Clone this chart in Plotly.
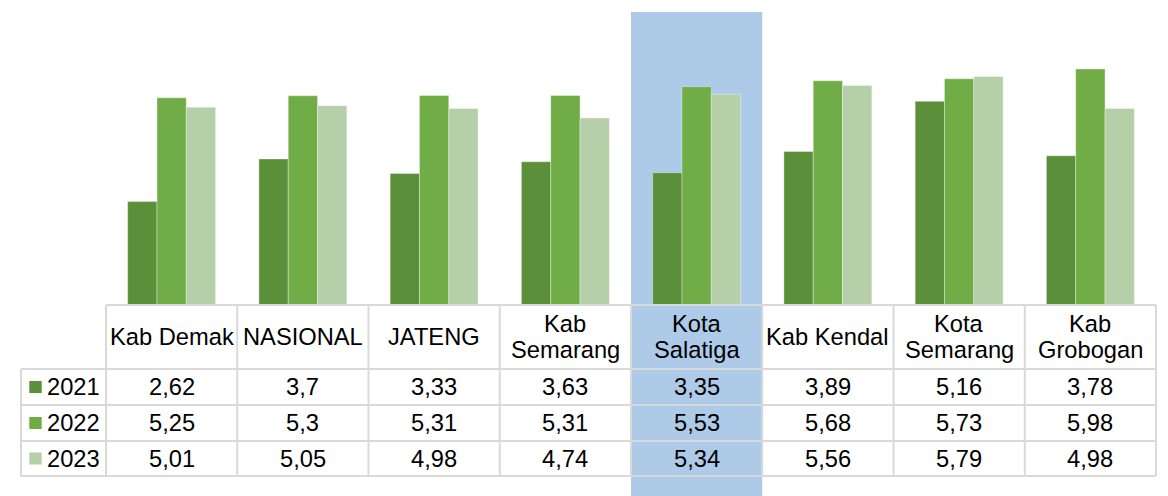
import plotly.graph_objects as go

# ---------------- data ----------------
categories = ["Kab Demak", "NASIONAL", "JATENG", "Kab Semarang", "Kota Salatiga",
              "Kab Kendal", "Kota Semarang", "Kab Grobogan"]
header_lines = [["Kab Demak"], ["NASIONAL"], ["JATENG"], ["Kab", "Semarang"],
                ["Kota", "Salatiga"], ["Kab Kendal"], ["Kota", "Semarang"], ["Kab", "Grobogan"]]
series_names = ["2021", "2022", "2023"]
values_2021 = [2.62, 3.7, 3.33, 3.63, 3.35, 3.89, 5.16, 3.78]
values_2022 = [5.25, 5.3, 5.31, 5.31, 5.53, 5.68, 5.73, 5.98]
values_2023 = [5.01, 5.05, 4.98, 4.74, 5.34, 5.56, 5.79, 4.98]
highlight = "Kota Salatiga"

series_values = [values_2021, values_2022, values_2023]
colors = ["#5B8F3A", "#70AD47", "#B5CFA8"]

# ---------------- layout geometry ----------------
# The page body adds an 8px margin, so the figure is drawn 8px smaller and
# screen positions are converted to figure positions through OFF.
OFF = 8
SCREEN_W, SCREEN_H = 1168, 496
W, H = SCREEN_W - OFF, SCREEN_H - OFF
plot_left, plot_right, plot_top, plot_bottom = 106, 1156, 12, 305  # screen pixels
L = plot_left - OFF
R = SCREEN_W - plot_right
T = plot_top - OFF
B = SCREEN_H - plot_bottom
plot_w = W - L - R
plot_h = H - T - B


def py(y_screen):
    return (plot_bottom - y_screen) / plot_h


def px(x_screen):
    return (x_screen - plot_left) / plot_w


FONT = "Liberation Sans, Arial, sans-serif"
FS = 23.7
GRID = "#D9D9D9"

fig = go.Figure()
for name, vals, col in zip(series_names, series_values, colors):
    fig.add_trace(go.Bar(
        x=categories, y=vals, name=name,
        marker=dict(color=col, line=dict(color="rgba(255,255,255,0.35)", width=1)),
        hoverinfo="x+y+name",
    ))

shapes = []
hi = categories.index(highlight)
shapes.append(dict(type="rect", xref="x", yref="paper", x0=hi - 0.5, x1=hi + 0.5,
                   y0=py(498), y1=py(12), fillcolor="#ADCBE9", line=dict(width=0),
                   layer="below"))

header_top = plot_bottom
row_top = [369, 405, 441]
row_bot = 476
label_left = 21
n = len(categories)

line_style = dict(color=GRID, width=2)
shapes.append(dict(type="line", xref="paper", yref="paper", x0=0, x1=1,
                   y0=py(header_top), y1=py(header_top), line=line_style))
for yv in row_top + [row_bot]:
    shapes.append(dict(type="line", xref="paper", yref="paper", x0=px(label_left), x1=1,
                       y0=py(yv), y1=py(yv), line=line_style))
shapes.append(dict(type="line", xref="paper", yref="paper", x0=px(label_left), x1=px(label_left),
                   y0=py(row_top[0]), y1=py(row_bot), line=line_style))
shapes.append(dict(type="line", xref="x domain", yref="paper", x0=0, x1=0,
                   y0=py(header_top), y1=py(row_bot), line=line_style))
shapes.append(dict(type="line", xref="x domain", yref="paper", x0=1, x1=1,
                   y0=py(header_top), y1=py(row_bot), line=line_style))
for i in range(n - 1):
    shapes.append(dict(type="line", xref="x", yref="paper", x0=i + 0.5, x1=i + 0.5,
                       y0=py(header_top), y1=py(row_bot), line=line_style))

row_bounds = row_top + [row_bot]
for k, col in enumerate(colors):
    cy = (row_bounds[k] + row_bounds[k + 1]) / 2
    shapes.append(dict(type="rect", xref="paper", yref="paper",
                       x0=px(29.3), x1=px(41.7), y0=py(cy + 6), y1=py(cy - 6),
                       fillcolor=col, line=dict(width=0)))

annotations = []
txt_font = dict(family=FONT, size=FS, color="#000000")
header_center = (header_top + row_top[0]) / 2
for cat, lines in zip(categories, header_lines):
    if len(lines) == 1:
        ys = [header_center]
    else:
        ys = [header_center - 13, header_center + 13]
    for ln, yc in zip(lines, ys):
        annotations.append(dict(x=cat, xref="x", y=py(yc), yref="paper", text=ln,
                                showarrow=False, font=txt_font, xanchor="center",
                                yanchor="middle"))
for k, (name, vals) in enumerate(zip(series_names, series_values)):
    cy = (row_bounds[k] + row_bounds[k + 1]) / 2
    annotations.append(dict(x=px(45), xref="paper", y=py(cy), yref="paper", text=name,
                            showarrow=False, font=txt_font, xanchor="left", yanchor="middle"))
    for cat, v in zip(categories, vals):
        annotations.append(dict(x=cat, xref="x", y=py(cy), yref="paper",
                                text=f"{v:g}".replace(".", ","), showarrow=False,
                                font=txt_font, xanchor="center", yanchor="middle"))

fig.update_layout(
    width=W, height=H,
    margin=dict(l=L, r=R, t=T, b=B, pad=0),
    barmode="group", bargap=0.33, bargroupgap=0,
    showlegend=False,
    paper_bgcolor="white", plot_bgcolor="rgba(0,0,0,0)",
    xaxis=dict(categoryorder="array", categoryarray=categories, range=[-0.5, n - 0.5],
               showticklabels=False, showgrid=False, zeroline=False, showline=False,
               ticks="", fixedrange=True),
    yaxis=dict(range=[0, plot_h / 39.47], showticklabels=False, showgrid=False,
               zeroline=False, showline=False, ticks="", fixedrange=True),
    shapes=shapes, annotations=annotations,
    font=dict(family=FONT),
)

fig.write_html("out.html")
